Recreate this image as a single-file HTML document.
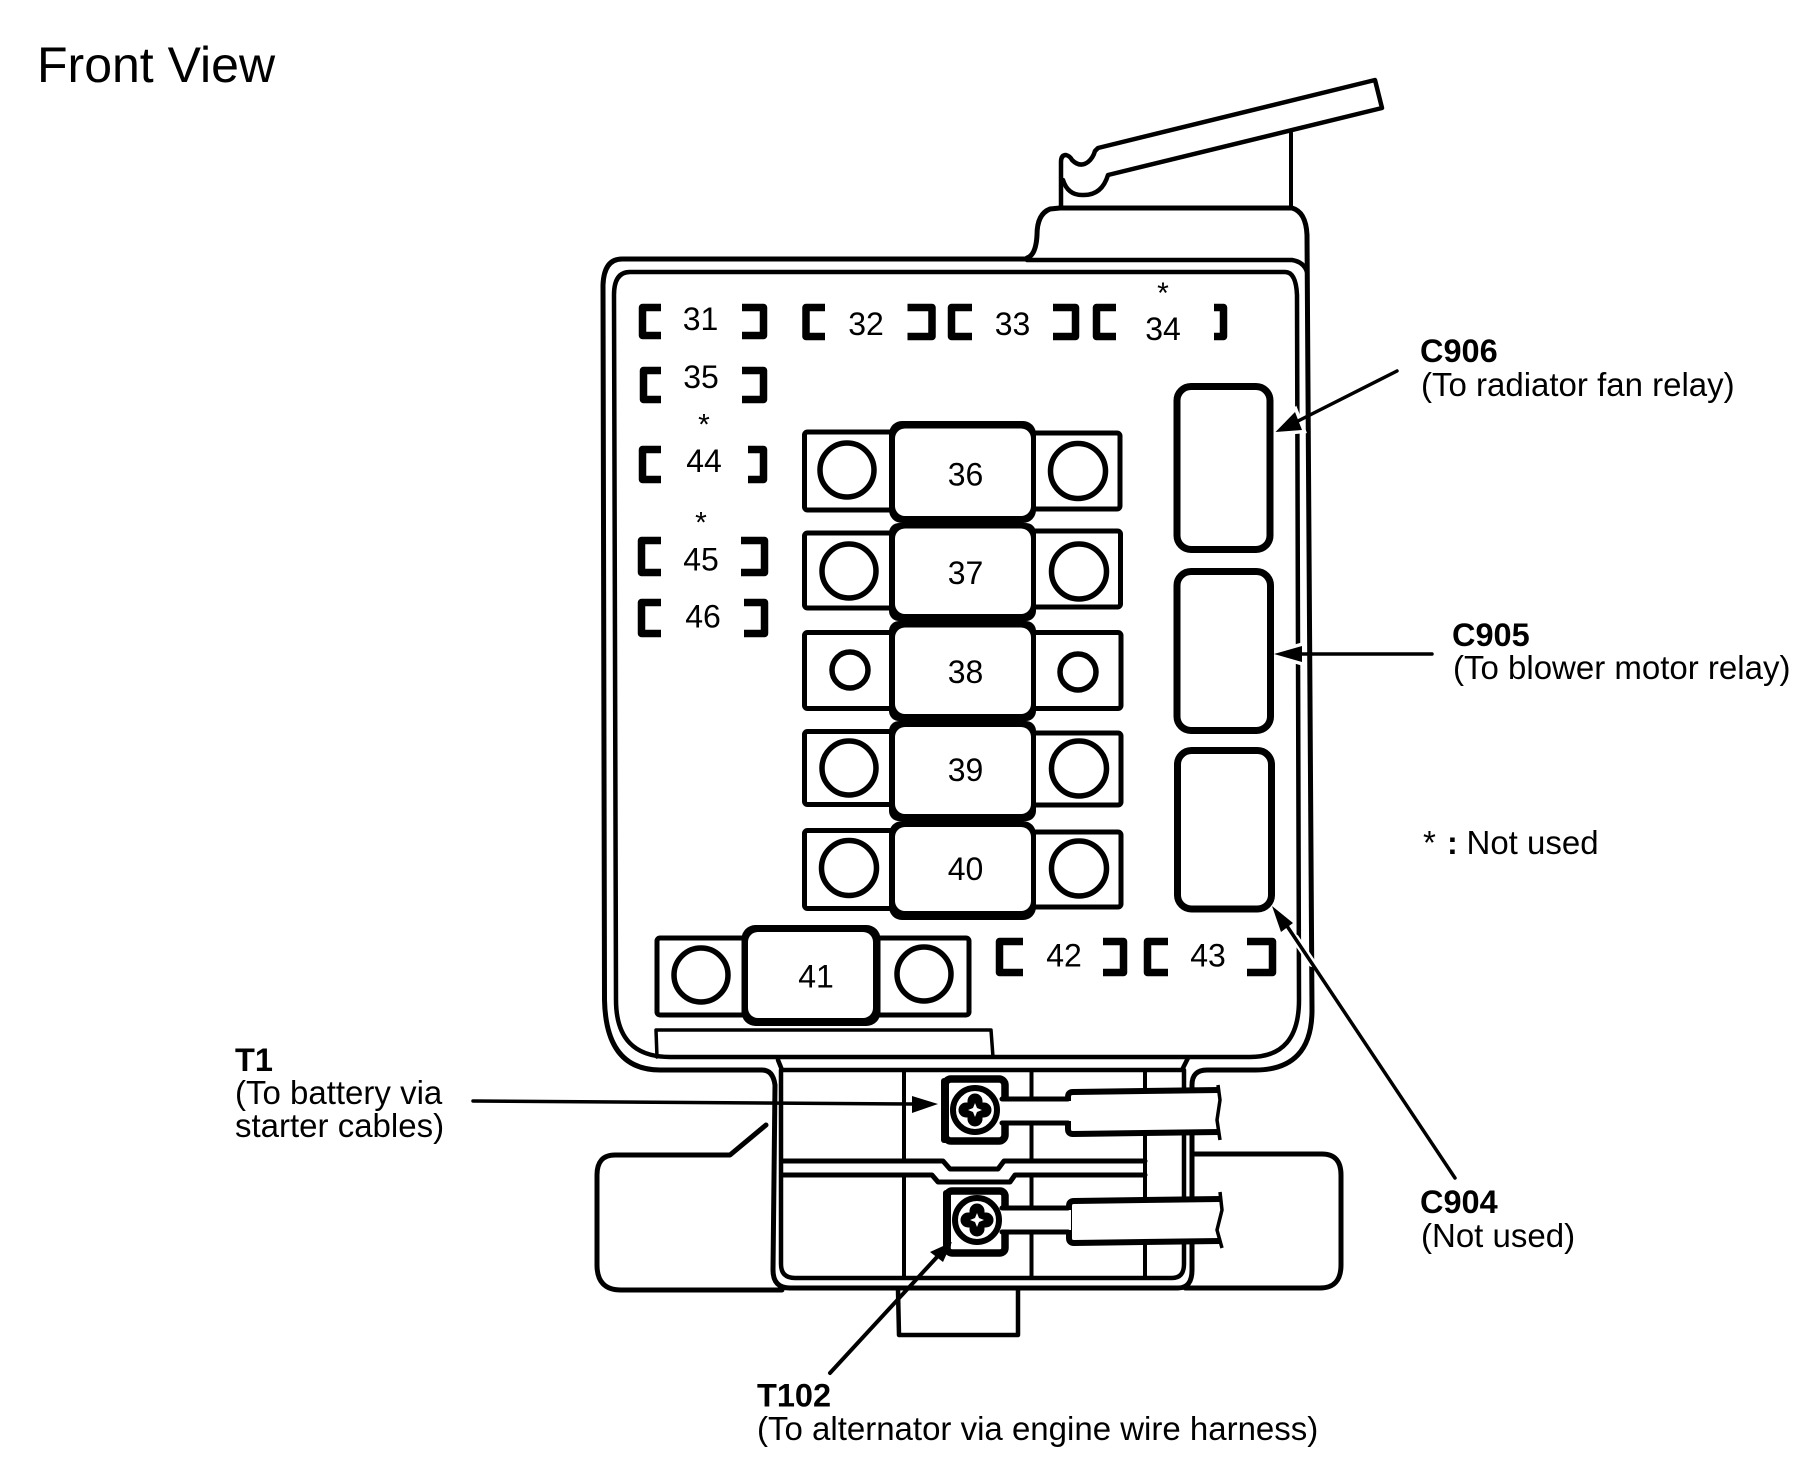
<!DOCTYPE html>
<html><head><meta charset="utf-8">
<style>
html,body{margin:0;padding:0;background:#fff}
svg{display:block}
text{font-family:"Liberation Sans",Arial,sans-serif;fill:#000}
.n{font-size:32px;text-anchor:middle}
.l{font-size:33px}
.b{font-size:32.5px;font-weight:bold}
.s{font-size:30px;text-anchor:middle}
.k{fill:none;stroke:#000;stroke-linejoin:round;stroke-linecap:round}
.br{fill:none;stroke:#000;stroke-width:7.5;stroke-linejoin:round}
.p{fill:#fff;stroke:#000;stroke-width:5}
.c{fill:#fff;stroke:#000;stroke-width:5.5}
</style></head><body>
<svg width="1801" height="1473" viewBox="0 0 1801 1473" xmlns="http://www.w3.org/2000/svg">
<rect width="1801" height="1473" fill="#fff"/>
<text x="37" y="82" font-size="50">Front View</text>

<!-- lever -->
<path class="k" stroke-width="4.5" d="M1061 207V162Q1061 155 1066 155Q1070 156 1072 160Q1080 168 1088 162Q1093 158 1095 151L1098 148L1375 80L1382 108L1108 175Q1102 195 1084 195Q1068 196 1063 180"/>
<path class="k" stroke-width="4" d="M1291 133V207"/>
<!-- shoulder -->
<path class="k" stroke-width="5" d="M1027 258Q1036 255 1037 235Q1037 214 1050 209L1060 208H1292Q1306 212 1307 235"/>
<path class="k" stroke-width="4.5" d="M1027 260H1292Q1304 262 1307 272"/>
<!-- outer shell -->
<path class="k" stroke-width="5" d="M1027 259H622Q604 259 603 285L604.5 1000Q606 1070 660 1070H762Q773 1070 775 1085L773 1270Q773 1288 790 1288H1178Q1192 1288 1192 1270V1085Q1192 1070 1207 1070H1255Q1312 1070 1312 1010L1307 235"/>
<!-- inner shell -->
<path class="k" stroke-width="4.5" d="M630 272H1285Q1296 272 1297 295L1299 1000Q1299 1057 1250 1057H670Q616 1057 616 1000L614 295Q614 272 630 272Z"/>
<!-- bar -->
<path class="k" stroke-width="3.5" d="M657 1057L656 1030H991L993 1057"/>
<!-- channel -->
<path class="k" stroke-width="4.5" d="M778 1060L782 1070H1182L1188 1058M781 1070V1264Q781 1278 795 1278H1172Q1184 1278 1184 1264V1070"/>
<path class="k" stroke-width="4" d="M904 1072V1160M904 1176V1277M1031.5 1072V1160M1031.5 1176V1277M1145 1072V1277"/>
<path class="k" stroke-width="5" d="M782 1161H943L950 1169H998L1004 1161H1145"/>
<path class="k" stroke-width="5" d="M782 1175H932L938 1182H1010L1015 1175H1145"/>
<!-- base -->
<path class="k" stroke-width="5" d="M782 1290H621Q597 1290 597 1265V1175Q597 1155 615 1155H730L766 1125"/>
<path class="k" stroke-width="5" d="M1194 1154H1322Q1341 1154 1341 1175V1265Q1341 1288 1320 1288H1185"/>
<path class="k" stroke-width="4.5" d="M898 1290L899 1335H1018V1290"/>

<!-- arrow halos across the shell lines -->
<path d="M1275.500 432L1295 412L1302 430Z" fill="#fff" stroke="#fff" stroke-width="7"/>
<path d="M1274 654L1302 646V662Z" fill="#fff" stroke="#fff" stroke-width="7"/>
<path class="k" style="stroke:#fff" stroke-width="8" stroke-linecap="butt" d="M1295 938L1312 963"/>

<!-- brackets -->
<path class="br" d="M661 307.500H642.500V335.500H661M742 307.500H763.500V335.500H742"/>
<path class="br" d="M825 307.500H806V336.500H825M907.500 307.500H932V336.500H907.500"/>
<path class="br" d="M972 307.500H951.500V336.500H972M1053 307.500H1075.500V336.500H1053"/>
<path class="br" d="M1116 307.500H1096.500V336.500H1116M1214 307.500H1223.500V336.500H1214"/>
<path class="br" d="M661 370.500H643.500V399.500H661M742 370.500H763.500V399.500H742"/>
<path class="br" d="M661 449.500H642.500V479.500H661M748 449.500H763.500V479.500H748"/>
<path class="br" d="M661 540.500H641.500V572.500H661M741 540.500H764.500V572.500H741"/>
<path class="br" d="M661 602.500H641.500V633.500H661M744 602.500H764.500V633.500H744"/>
<path class="br" d="M1023 941.500H999.500V972.500H1023M1103 941.500H1123.500V972.500H1103"/>
<path class="br" d="M1168 941.500H1147.500V972.500H1168M1247 941.500H1272.500V972.500H1247"/>
<text class="n" x="700.500" y="330">31</text>
<text class="n" x="866" y="335">32</text>
<text class="n" x="1012.500" y="335">33</text>
<text class="n" x="1163" y="340">34</text>
<text class="n" x="701" y="388">35</text>
<text class="n" x="704" y="472">44</text>
<text class="n" x="701" y="570.500">45</text>
<text class="n" x="703" y="627.500">46</text>
<text class="n" x="1064" y="966.500">42</text>
<text class="n" x="1208" y="966.500">43</text>
<text class="s" x="1163" y="303">*</text>
<text class="s" x="704" y="434.500">*</text>
<text class="s" x="701" y="532.500">*</text>

<!-- fuse side plates -->
<rect class="p" x="804.500" y="432" width="88" height="78" rx="3"/><rect class="p" x="1030" y="433" width="90" height="76" rx="3"/>
<rect class="p" x="804.500" y="533" width="88" height="75" rx="3"/><rect class="p" x="1030" y="531" width="90.500" height="76" rx="3"/>
<rect class="p" x="804.500" y="632.500" width="88" height="76" rx="3" stroke-width="6"/><rect class="p" x="1030" y="632.500" width="91" height="76" rx="3"/>
<rect class="p" x="804.500" y="731.500" width="88" height="73" rx="3"/><rect class="p" x="1030" y="733" width="91" height="72" rx="3"/>
<rect class="p" x="804.500" y="830.500" width="88" height="78" rx="3"/><rect class="p" x="1030" y="832" width="91" height="75" rx="3"/>
<circle class="c" cx="847" cy="470" r="27"/><circle class="c" cx="1078" cy="471" r="27.500"/>
<circle class="c" cx="849" cy="571" r="27"/><circle class="c" cx="1079" cy="571.500" r="27.500"/>
<circle class="c" cx="850" cy="670" r="18"/><circle class="c" cx="1078" cy="672" r="18"/>
<circle class="c" cx="849" cy="768" r="27"/><circle class="c" cx="1079" cy="768.500" r="27.500"/>
<circle class="c" cx="849" cy="868" r="27.500"/><circle class="c" cx="1079" cy="868.500" r="27.500"/>
<!-- fuse bodies -->
<rect x="889" y="421" width="147" height="102" rx="13"/>
<rect x="889" y="523" width="147" height="98" rx="10"/>
<rect x="889" y="621" width="147" height="100" rx="10"/>
<rect x="889" y="721" width="147" height="100" rx="10"/>
<rect x="889" y="821" width="147" height="99" rx="13"/>
<g fill="#fff">
<rect x="895" y="428.500" width="136" height="87.500" rx="10"/>
<rect x="895" y="528.500" width="136" height="85.500" rx="10"/>
<rect x="895" y="627.500" width="136" height="86.500" rx="10"/>
<rect x="895" y="727" width="136" height="87" rx="10"/>
<rect x="895" y="827" width="136" height="84" rx="10"/>
</g>
<text class="n" x="965.500" y="485.500">36</text>
<text class="n" x="965.500" y="584">37</text>
<text class="n" x="965.500" y="683">38</text>
<text class="n" x="965.500" y="781">39</text>
<text class="n" x="965.500" y="880">40</text>

<!-- fuse 41 -->
<rect class="p" x="657" y="938" width="92" height="77" rx="3"/><rect class="p" x="872" y="938" width="97" height="77" rx="3"/>
<circle class="c" cx="701" cy="975" r="27"/><circle class="c" cx="924" cy="974" r="27"/>
<rect x="741.500" y="925" width="139" height="101" rx="14"/>
<rect x="748" y="932" width="125" height="86" rx="10" fill="#fff"/>
<text class="n" x="816" y="987.500">41</text>

<!-- connector slots -->
<g fill="#fff" stroke="#000" stroke-width="7">
<rect x="1177" y="386.500" width="93" height="163" rx="14"/>
<rect x="1177" y="571.500" width="93.500" height="159" rx="14"/>
<rect x="1177.500" y="750.500" width="94" height="158.500" rx="14"/>
</g>

<!-- wires -->
<path d="M1219 1090L1073 1092Q1068 1092 1068 1097V1129Q1068 1134 1073 1134L1219 1132" fill="#fff" stroke="#000" stroke-width="6" stroke-linejoin="round"/>
<path d="M1218 1085L1220 1100L1217 1120L1220 1140" fill="none" stroke="#000" stroke-width="3.500"/>
<path d="M1220 1199L1074 1201Q1069 1201 1069 1206V1238Q1069 1243 1074 1243L1220 1241" fill="#fff" stroke="#000" stroke-width="6" stroke-linejoin="round"/>
<path d="M1220 1192L1222 1210L1217 1230L1222 1248" fill="none" stroke="#000" stroke-width="3.500"/>

<!-- terminal T1 -->
<rect x="945" y="1079" width="60" height="62" rx="6" fill="#fff" stroke="#000" stroke-width="7.500"/>
<rect x="941" y="1078" width="8" height="65" rx="3"/>
<path d="M998 1101H1071V1121H998Z" fill="#fff"/>
<path class="k" stroke-width="5" d="M1002 1099H1068M1002 1123H1068"/>
<circle cx="975" cy="1110" r="22" fill="#fff" stroke="#000" stroke-width="6"/>
<path class="k" stroke-width="15" d="M966 1110H984M975 1101V1119"/>
<path d="M975 1103L977 1108L982 1110L977 1112L975 1117L973 1112L968 1110L973 1108Z" fill="#fff"/>
<!-- terminal T102 -->
<rect x="947" y="1191" width="58" height="62" rx="5" fill="#fff" stroke="#000" stroke-width="7.500"/>
<rect x="943" y="1190" width="8" height="58" rx="3"/>
<path d="M998 1210H1071V1230H998Z" fill="#fff"/>
<path class="k" stroke-width="5" d="M1002 1208H1068M1002 1232H1068"/>
<circle cx="977" cy="1220" r="22" fill="#fff" stroke="#000" stroke-width="6"/>
<path class="k" stroke-width="15" d="M968 1220H986M977 1211V1229"/>
<path d="M977 1213L979 1218L984 1220L979 1222L977 1227L975 1222L970 1220L975 1218Z" fill="#fff"/>

<!-- leaders -->
<path class="k" stroke-width="3.500" stroke-linecap="butt" d="M473 1101L915 1104"/>
<path d="M938 1104L912 1096V1113Z"/>
<path class="k" stroke-width="4" stroke-linecap="butt" d="M937 1257L830 1373"/>
<path d="M952 1242L930 1252L943 1262Z"/>
<path class="k" stroke-width="3.500" stroke-linecap="butt" d="M1298 421L1397 371"/>
<path d="M1275.500 432L1295 412L1302 430Z"/>
<path class="k" stroke-width="3.500" stroke-linecap="butt" d="M1300 654H1432"/>
<path d="M1274 654L1302 646V662Z"/>
<path class="k" stroke-width="3.500" stroke-linecap="butt" d="M1287 926L1455 1178"/>
<path d="M1272 906L1281 932L1293 923Z"/>

<!-- labels -->
<text class="b" x="1420" y="362">C906</text>
<text class="l" x="1421" y="396">(To radiator fan relay)</text>
<text class="b" x="1452" y="646">C905</text>
<text class="l" x="1453" y="679">(To blower motor relay)</text>
<text class="l" x="1423" y="854">*</text>
<text class="b" x="1447" y="854">:</text>
<text class="l" x="1466.500" y="854">Not used</text>
<text class="b" x="1420" y="1213">C904</text>
<text class="l" x="1421" y="1247">(Not used)</text>
<text class="b" x="235" y="1071">T1</text>
<text class="l" x="235" y="1104">(To battery via</text>
<text class="l" x="235" y="1137">starter cables)</text>
<text class="b" x="757" y="1406.500">T102</text>
<text class="l" x="757" y="1440">(To alternator via engine wire harness)</text>
</svg>
</body></html>
